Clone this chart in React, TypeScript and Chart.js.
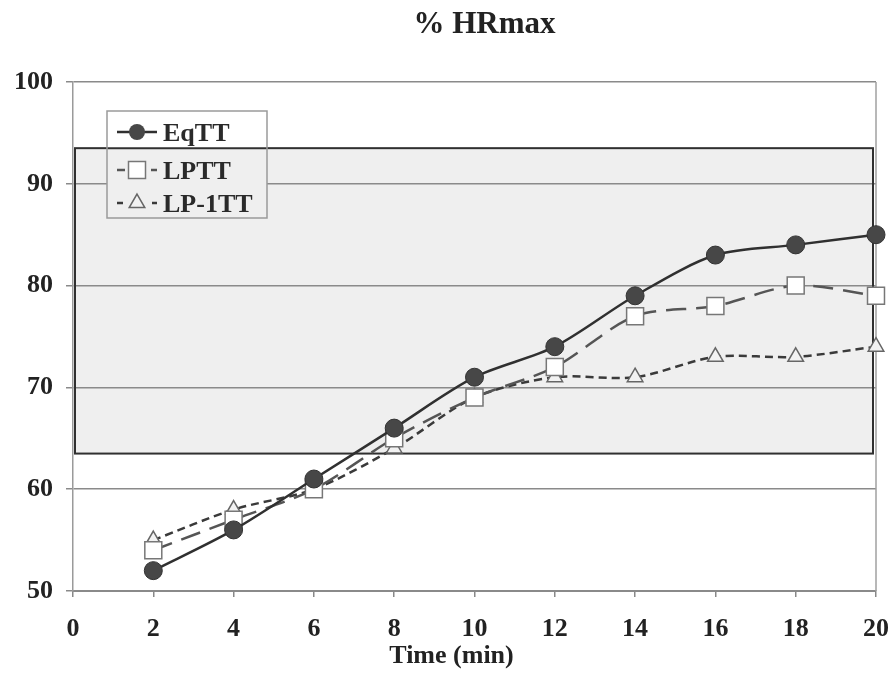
import React, { useEffect, useRef } from "react";
import { Chart, registerables } from "chart.js";

Chart.register(...registerables);

// Time points (min) and %HRmax values per protocol
const minutes = [2, 4, 6, 8, 10, 12, 14, 16, 18, 20];
const eqTT = [52, 56, 61, 66, 71, 74, 79, 83, 84, 85];
const lpTT = [54, 57, 60, 65, 69, 72, 77, 78, 80, 79];
const lp1TT = [55, 58, 60, 64, 69, 71, 71, 73, 73, 74];

const seriesNames = ["EqTT", "LPTT", "LP-1TT"];
const yRange = [50, 100];
const xRange = [0, 20];
// shaded target zone (%HRmax)
const bandRange = [63.5, 93.5];

const chartTitle = "% HRmax";
const xAxisTitle = "Time (min)";

const FONT = '"Liberation Serif", "Times New Roman", Times, serif';
const BAND_FILL = "#efefef";

const toPoints = (vals: number[]) => minutes.map((m, i) => ({ x: m, y: vals[i] }));

function drawTriangle(ctx: CanvasRenderingContext2D, cx: number, cy: number, r: number) {
  const h = r * 1.5;
  const half = r * Math.sin(Math.PI / 3);
  ctx.beginPath();
  ctx.moveTo(cx, cy - r);
  ctx.lineTo(cx + half, cy - r + h);
  ctx.lineTo(cx - half, cy - r + h);
  ctx.closePath();
}

const decorPlugin = {
  id: "decor",
  beforeDraw(chart: any) {
    const { ctx, chartArea: a, scales } = chart;
    const y = scales.y;
    ctx.save();
    ctx.fillStyle = "#ffffff";
    ctx.fillRect(0, 0, chart.width, chart.height);
    const top = y.getPixelForValue(bandRange[1]);
    const bot = y.getPixelForValue(bandRange[0]);
    ctx.fillStyle = BAND_FILL;
    ctx.fillRect(a.left + 2, top, a.right - 3 - (a.left + 2), bot - top);
    ctx.restore();
  },
  beforeDatasetsDraw(chart: any) {
    const { ctx, chartArea: a, scales } = chart;
    const y = scales.y;
    const top = y.getPixelForValue(bandRange[1]);
    const bot = y.getPixelForValue(bandRange[0]);
    ctx.save();
    // right frame line
    ctx.strokeStyle = "#a0a0a0";
    ctx.lineWidth = 1.5;
    ctx.beginPath();
    ctx.moveTo(a.right, a.top);
    ctx.lineTo(a.right, a.bottom);
    ctx.stroke();
    // band outline
    ctx.strokeStyle = "#303030";
    ctx.lineWidth = 2;
    ctx.strokeRect(a.left + 2, top, a.right - 3 - (a.left + 2), bot - top);
    ctx.restore();
  },
  afterDatasetsDraw(chart: any) {
    const { ctx, chartArea: a, scales } = chart;
    const bandTop = scales.y.getPixelForValue(bandRange[1]);
    const L = a.left + 34;
    const T = a.top + 29;
    const W = 160;
    const H = 107;
    ctx.save();
    ctx.fillStyle = "#ffffff";
    ctx.fillRect(L, T, W, H);
    ctx.fillStyle = BAND_FILL;
    ctx.fillRect(L, bandTop, W, T + H - bandTop);
    ctx.strokeStyle = "#303030";
    ctx.lineWidth = 2;
    ctx.beginPath();
    ctx.moveTo(L, bandTop);
    ctx.lineTo(L + W, bandTop);
    ctx.stroke();
    ctx.strokeStyle = "#9a9a9a";
    ctx.lineWidth = 1.5;
    ctx.strokeRect(L, T, W, H);

    const rows = [T + 21, T + 59, T + 92];
    const sx = L + 10;
    const mx = L + 30;
    const ex = L + 50;

    // EqTT
    ctx.strokeStyle = "#303030";
    ctx.lineWidth = 2.5;
    ctx.beginPath();
    ctx.moveTo(sx, rows[0]);
    ctx.lineTo(ex, rows[0]);
    ctx.stroke();
    ctx.fillStyle = "#474747";
    ctx.beginPath();
    ctx.arc(mx, rows[0], 8, 0, Math.PI * 2);
    ctx.fill();

    // LPTT
    ctx.strokeStyle = "#555555";
    ctx.lineWidth = 2.5;
    ctx.beginPath();
    ctx.moveTo(sx, rows[1]);
    ctx.lineTo(sx + 8, rows[1]);
    ctx.moveTo(ex - 6, rows[1]);
    ctx.lineTo(ex, rows[1]);
    ctx.stroke();
    ctx.fillStyle = "#ffffff";
    ctx.fillRect(mx - 8.5, rows[1] - 8.5, 17, 17);
    ctx.strokeStyle = "#777777";
    ctx.lineWidth = 1.5;
    ctx.strokeRect(mx - 8.5, rows[1] - 8.5, 17, 17);

    // LP-1TT
    ctx.strokeStyle = "#3a3a3a";
    ctx.lineWidth = 2.5;
    ctx.beginPath();
    ctx.moveTo(sx, rows[2]);
    ctx.lineTo(sx + 6, rows[2]);
    ctx.moveTo(ex - 5, rows[2]);
    ctx.lineTo(ex, rows[2]);
    ctx.stroke();
    drawTriangle(ctx, mx, rows[2], 9);
    ctx.fillStyle = "#f2f2f2";
    ctx.fill();
    ctx.strokeStyle = "#666666";
    ctx.lineWidth = 1.5;
    ctx.stroke();

    ctx.fillStyle = "#2a2a2a";
    ctx.font = `bold 26px ${FONT}`;
    ctx.textAlign = "left";
    ctx.textBaseline = "alphabetic";
    seriesNames.forEach((name, i) => ctx.fillText(name, L + 56, rows[i] + 9));
    ctx.restore();
  },
  afterDraw(chart: any) {
    const { ctx, chartArea: a } = chart;
    const cx = (a.left + a.right) / 2;
    ctx.save();
    ctx.fillStyle = "#222222";
    ctx.textAlign = "center";
    ctx.textBaseline = "alphabetic";
    ctx.font = `bold 31px ${FONT}`;
    ctx.fillText(chartTitle, cx + 10, a.top - 49);
    ctx.font = `bold 26px ${FONT}`;
    ctx.fillText(xAxisTitle, cx - 23, a.bottom + 72);
    ctx.restore();
  },
};

export default function App() {
  const canvasRef = useRef<HTMLCanvasElement | null>(null);

  useEffect(() => {
    document.body.style.margin = "0";
    const canvas = canvasRef.current;
    if (!canvas) return;
    const tickFont = { family: FONT, size: 26, weight: "bold" as const };
    const chart = new Chart(canvas, {
      type: "line",
      data: {
        datasets: [
          {
            label: seriesNames[0],
            data: toPoints(eqTT),
            borderColor: "#303030",
            borderWidth: 2.5,
            tension: 0.3,
            pointStyle: "circle",
            pointRadius: 9,
            pointBackgroundColor: "#474747",
            pointBorderColor: "#333333",
            pointBorderWidth: 1,
            clip: false,
          },
          {
            label: seriesNames[1],
            data: toPoints(lpTT),
            borderColor: "#555555",
            borderWidth: 2.5,
            borderDash: [20, 10],
            tension: 0.3,
            pointStyle: "rect",
            pointRadius: 12,
            pointBackgroundColor: "#ffffff",
            pointBorderColor: "#777777",
            pointBorderWidth: 1.5,
            clip: false,
          },
          {
            label: seriesNames[2],
            data: toPoints(lp1TT),
            borderColor: "#3a3a3a",
            borderWidth: 2.5,
            borderDash: [8, 5],
            tension: 0.3,
            pointStyle: "triangle",
            pointRadius: 9,
            pointBackgroundColor: "#f2f2f2",
            pointBorderColor: "#666666",
            pointBorderWidth: 1.5,
            clip: false,
          },
        ],
      },
      options: {
        responsive: false,
        animation: false,
        layout: { autoPadding: false, padding: { top: 82, right: 15, left: 0, bottom: 0 } },
        plugins: {
          legend: { display: false },
          tooltip: { enabled: false },
          title: { display: false },
        },
        scales: {
          x: {
            type: "linear",
            min: xRange[0],
            max: xRange[1],
            afterFit: (s: any) => {
              s.height = 84;
              s.paddingRight = 0;
              s.paddingLeft = 0;
            },
            ticks: { stepSize: 2, font: tickFont, color: "#222222", padding: 17, maxRotation: 0 },
            grid: { drawOnChartArea: false, tickLength: 6, color: "#888888", lineWidth: 1.5 },
            border: { display: true, color: "#8a8a8a", width: 2 },
          },
          y: {
            type: "linear",
            min: yRange[0],
            max: yRange[1],
            afterFit: (s: any) => {
              s.width = 73;
            },
            ticks: { stepSize: 10, font: tickFont, color: "#222222", padding: 13 },
            grid: { color: "#8a8a8a", lineWidth: 1.5, tickLength: 7 },
            border: { display: true, color: "#9a9a9a", width: 1.5 },
          },
        },
      },
      plugins: [decorPlugin],
    });
    return () => chart.destroy();
  }, []);

  return (
    <div style={{ position: "absolute", left: 0, top: 0, width: 891, height: 675 }}>
      <canvas ref={canvasRef} width={891} height={675} style={{ display: "block" }} />
    </div>
  );
}
